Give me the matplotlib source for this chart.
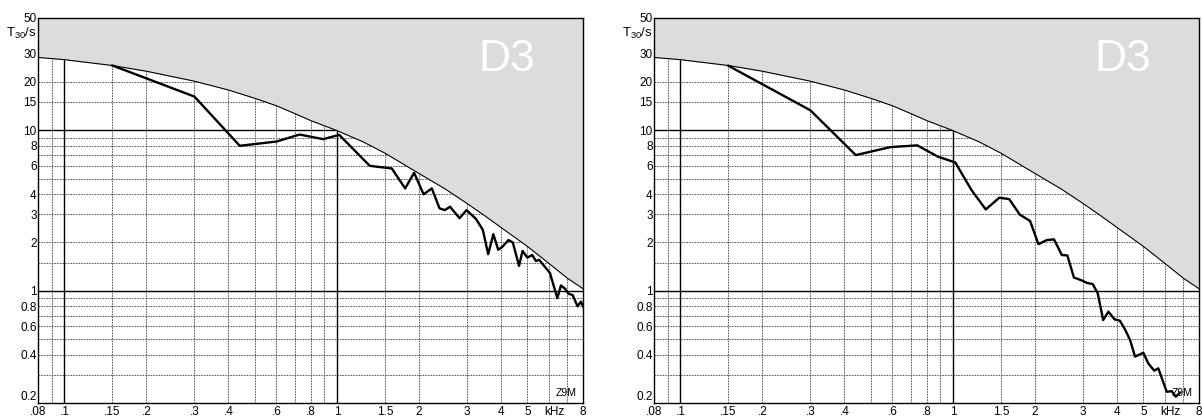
import matplotlib
matplotlib.use("Agg")
import matplotlib.pyplot as plt

plt.rcParams['font.family'] = ['Liberation Sans', 'DejaVu Sans']

# upper limit curve (kHz, s), same in both panels
limit_f = [0.08, 0.1, 0.15, 0.2, 0.3, 0.4, 0.5, 0.6, 0.7, 0.8, 1.0, 1.25, 1.5, 2.0, 2.5, 3.0, 3.5,
           4.0, 5.0, 6.0, 7.0, 8.0]
limit_t = [28.4, 27.5, 25.3, 23.3, 20.2, 17.8, 15.8, 14.2, 12.7, 11.5, 9.95, 8.45, 7.2, 5.38, 4.3,
           3.5, 2.92, 2.48, 1.89, 1.48, 1.2, 1.03]

# left panel measurement
left_f = [0.15, 0.3, 0.44, 0.6, 0.73, 0.89, 1.02, 1.32, 1.59, 1.78, 1.92, 2.08, 2.23, 2.38,
          2.49, 2.6, 2.82, 2.99, 3.24, 3.43, 3.59, 3.75, 3.91, 4.05, 4.26, 4.42, 4.66, 4.8,
          5.0, 5.21, 5.38, 5.52, 5.8, 6.05, 6.44, 6.64, 6.87, 7.07, 7.33, 7.64, 7.86, 8.0]
left_t = [25.3, 16.2, 8.0, 8.5, 9.4, 8.8, 9.35, 6.0, 5.78, 4.34, 5.43, 3.99, 4.34, 3.26,
          3.18, 3.34, 2.83, 3.18, 2.8, 2.4, 1.69, 2.25, 1.8, 1.88, 2.07, 2.0, 1.43, 1.77,
          1.61, 1.67, 1.53, 1.56, 1.41, 1.29, 0.9, 1.08, 1.03, 0.96, 0.94, 0.8, 0.855, 0.8]

# right panel measurement
right_f = [0.15, 0.3, 0.44, 0.59, 0.74, 0.88, 1.02, 1.17, 1.32, 1.48, 1.61, 1.76, 1.92, 2.06,
           2.21, 2.35, 2.51, 2.63, 2.78, 2.99, 3.1, 3.26, 3.4, 3.56, 3.72, 3.92, 4.1, 4.28,
           4.47, 4.66, 5.0, 5.21, 5.48, 5.67, 6.09, 6.35, 6.58, 6.81]
right_t = [25.2, 13.3, 7.0, 7.85, 8.05, 6.85, 6.3, 4.24, 3.21, 3.8, 3.72, 2.98, 2.72, 1.95,
           2.07, 2.09, 1.67, 1.66, 1.21, 1.155, 1.12, 1.1, 0.964, 0.657, 0.741, 0.664, 0.651, 0.575,
           0.493, 0.389, 0.411, 0.353, 0.318, 0.329, 0.235, 0.237, 0.219, 0.232]

x_ticks = [0.08, 0.1, 0.15, 0.2, 0.3, 0.4, 0.6, 0.8, 1, 1.5, 2, 3, 4, 5, 6.3, 8]
x_labels = ['.08', '.1', '.15', '.2', '.3', '.4', '.6', '.8', '1', '1.5', '2', '3', '4', '5', 'kHz', '8']
y_ticks = [0.2, 0.4, 0.6, 0.8, 1, 2, 3, 4, 6, 8, 10, 15, 20, 30, 50]
y_labels = ['0.2', '0.4', '0.6', '0.8', '1', '2', '3', '4', '6', '8', '10', '15', '20', '30', '50']

x_grid = [0.09, 0.15, 0.2, 0.3, 0.4, 0.5, 0.6, 0.7, 0.8, 0.9, 1.5, 2, 3, 4, 5, 6, 7]
x_solid = [0.1, 1]
y_grid = [0.3, 0.4, 0.5, 0.6, 0.7, 0.8, 0.9, 1.5, 2, 3, 4, 5, 6, 7, 8, 9, 15, 20, 30]
y_solid = [1, 10]


def draw_panel(ax, f, t):
    ax.set_xscale('log')
    ax.set_yscale('log')
    ax.set_xlim(0.08, 8)
    ax.set_ylim(0.2, 50)
    for x in x_grid:
        ax.axvline(x, color='#444444', lw=0.6, dashes=(2, 1.2), zorder=1)
    for y in y_grid:
        ax.axhline(y, color='#444444', lw=0.6, dashes=(2, 1.2), zorder=1)
    for x in x_solid:
        ax.axvline(x, color='black', lw=1.0, zorder=1.5)
    for y in y_solid:
        ax.axhline(y, color='black', lw=1.0, zorder=1.5)
    ax.fill_between(limit_f, limit_t, 50, color='#dcdcdc', lw=0, zorder=2)
    ax.plot(limit_f, limit_t, color='black', lw=0.8, zorder=3)
    ax.plot(f, t, color='black', lw=1.7, zorder=4)

    ax.minorticks_off()
    ax.set_xticks(x_ticks)
    ax.set_xticklabels(x_labels)
    ax.set_yticks(y_ticks)
    ax.set_yticklabels(y_labels)
    ax.tick_params(axis='x', length=0, labelsize=8.5, pad=2.5)
    ax.tick_params(axis='y', length=0, labelsize=8.5, pad=1)
    ax.get_yticklabels()[0].set_va('bottom')
    for s in ax.spines.values():
        s.set_linewidth(1.0)
        s.set_zorder(5)

    ax.text(0.86, 0.893, 'D3', transform=ax.transAxes, color='white',
            fontsize=32, ha='center', va='center', zorder=6)
    ax.text(-0.003, 0.961, r'T$_{\mathregular{30}}$/s', transform=ax.transAxes,
            fontsize=9.5, ha='right', va='center')
    ax.text(0.969, 0.027, 'Z9M', transform=ax.transAxes, fontsize=7.5,
            ha='center', va='center', zorder=6)


fig = plt.figure(figsize=(12.02, 4.17), dpi=100)
ax1 = fig.add_axes([38 / 1202, 14 / 417, 545 / 1202, 385 / 417])
ax2 = fig.add_axes([654 / 1202, 14 / 417, 545 / 1202, 385 / 417])
draw_panel(ax1, left_f, left_t)
draw_panel(ax2, right_f, right_t)

fig.savefig('out.png', dpi=100)
